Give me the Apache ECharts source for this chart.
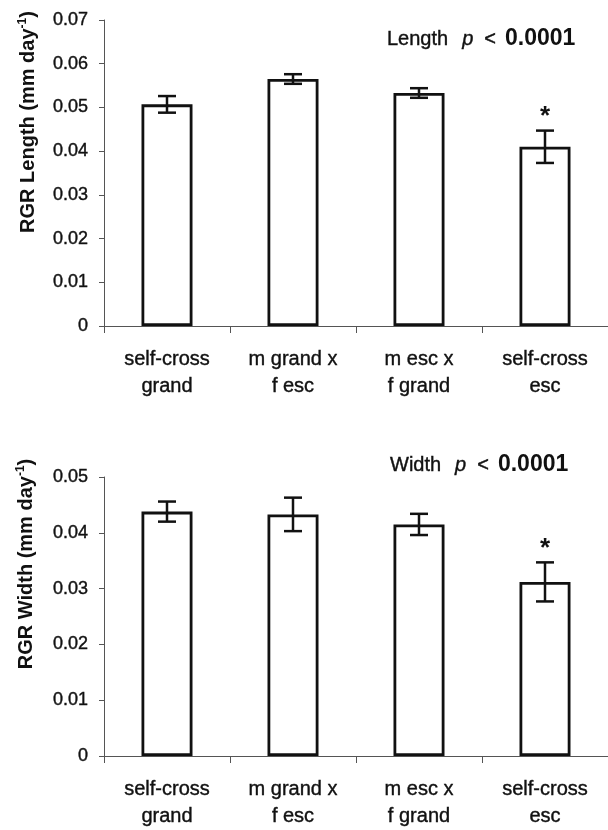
<!DOCTYPE html>
<html><head><meta charset="utf-8">
<script src="https://cdn.jsdelivr.net/npm/echarts@6/dist/echarts.min.js"></script>
<style>html,body{margin:0;padding:0;background:#fff}#c{width:608px;height:830px}</style>
</head><body><div id="c"></div>
<script>
const categories = ['self-cross\ngrand', 'm grand x\nf esc', 'm esc x\nf grand', 'self-cross\nesc'];
const lengthMean = [0.0507, 0.0565, 0.0533, 0.0410];
const lengthErr = [0.0019, 0.0011, 0.0011, 0.0037];
const widthMean = [0.0438, 0.0433, 0.0415, 0.0312];
const widthErr = [0.0018, 0.0030, 0.0019, 0.0035];
const significant = [false, false, false, true];
const lengthTicks = { min: 0, max: 0.07, interval: 0.01 };
const widthTicks = { min: 0, max: 0.05, interval: 0.01 };

const FONT = 'Liberation Sans, Arial, sans-serif';
const INK = '#111';
const chart = echarts.init(document.getElementById('c'), null, { renderer: 'canvas' });

function errSeries(mean, err, axisIdx) {
  return {
    type: 'custom', xAxisIndex: axisIdx, yAxisIndex: axisIdx, z: 5,
    data: mean.map((m, i) => [i, m - err[i], m + err[i], significant[i] ? 1 : 0]),
    renderItem: function (params, api) {
      const x = api.coord([api.value(0), 0])[0];
      const lo = api.coord([api.value(0), api.value(1)])[1];
      const hi = api.coord([api.value(0), api.value(2)])[1];
      const w = 9;
      const st = { stroke: INK, lineWidth: 2.5 };
      const children = [
        { type: 'line', shape: { x1: x, y1: lo, x2: x, y2: hi }, style: st },
        { type: 'line', shape: { x1: x - w, y1: lo, x2: x + w, y2: lo }, style: st },
        { type: 'line', shape: { x1: x - w, y1: hi, x2: x + w, y2: hi }, style: st }
      ];
      if (api.value(3) === 1) {
        children.push({ type: 'text', style: { text: '*', x: x, y: hi - 14, align: 'center', verticalAlign: 'middle', font: 'bold 26px ' + FONT, fill: INK } });
      }
      return { type: 'group', children: children };
    }
  };
}

function yAxis(gi, ticks) {
  return {
    type: 'value', gridIndex: gi, min: ticks.min, max: ticks.max, interval: ticks.interval,
    axisLine: { show: true, lineStyle: { color: '#555', width: 1 } },
    axisTick: { show: true, length: 5, lineStyle: { color: '#555' } },
    splitLine: { show: false },
    axisLabel: { color: INK, fontSize: 18, fontFamily: FONT, margin: 16,
      textBorderColor: INK, textBorderWidth: 0.4,
      formatter: v => v === 0 ? '0' : v.toFixed(2) }
  };
}

function xAxis(gi) {
  return {
    type: 'category', gridIndex: gi, data: categories,
    axisLine: { show: true, lineStyle: { color: '#555', width: 1 } },
    axisTick: { show: true, length: 7, lineStyle: { color: '#555' } },
    axisLabel: { color: INK, fontSize: 20, fontFamily: FONT, margin: 20, lineHeight: 27,
      textBorderColor: INK, textBorderWidth: 0.4 }
  };
}

const pRich = {
  n: { fontSize: 20, fontFamily: FONT, fill: INK, stroke: INK, lineWidth: 0.4 },
  i: { fontSize: 20, fontFamily: FONT, fontStyle: 'italic', fill: INK, stroke: INK, lineWidth: 0.4, padding: [0, 11, 0, 14] },
  l: { fontSize: 20, fontFamily: FONT, fill: INK, stroke: INK, lineWidth: 0.4, padding: [0, 9, 0, 0] },
  b: { fontSize: 23, fontFamily: FONT, fontWeight: 'bold', fill: INK }
};
const yRich = {
  a: { fontSize: 20, fontWeight: 'bold', fontFamily: FONT, fill: INK },
  s: { fontSize: 12, fontWeight: 'bold', fontFamily: FONT, fill: INK, padding: [0, 0, 10, 0] }
};

chart.setOption({
  animation: false,
  backgroundColor: '#fff',
  grid: [
    { left: 104, right: 0, top: 20, height: 306 },
    { left: 104, right: 0, top: 477, height: 280 }
  ],
  xAxis: [xAxis(0), xAxis(1)],
  yAxis: [yAxis(0, lengthTicks), yAxis(1, widthTicks)],
  series: [
    { type: 'bar', xAxisIndex: 0, yAxisIndex: 0, data: lengthMean, barWidth: 51,
      itemStyle: { color: '#fff', borderColor: INK, borderWidth: 2.8 } },
    { type: 'bar', xAxisIndex: 1, yAxisIndex: 1, data: widthMean, barWidth: 51,
      itemStyle: { color: '#fff', borderColor: INK, borderWidth: 2.8 } },
    errSeries(lengthMean, lengthErr, 0),
    errSeries(widthMean, widthErr, 1)
  ],
  graphic: [
    { type: 'text', x: 387, y: 39, style: {
      text: '{n|Length}{i|p}{l|<}{b|0.0001}', verticalAlign: 'middle', rich: pRich } },
    { type: 'text', x: 390, y: 465, style: {
      text: '{n|Width}{i|p}{l|<}{b|0.0001}', verticalAlign: 'middle', rich: pRich } },
    { type: 'text', x: 28, y: 122, rotation: Math.PI / 2, style: {
      text: '{a|RGR Length (mm day}{s|-1}{a|)}', align: 'center', verticalAlign: 'middle', rich: yRich } },
    { type: 'text', x: 26, y: 564, rotation: Math.PI / 2, style: {
      text: '{a|RGR Width (mm day}{s|-1}{a|)}', align: 'center', verticalAlign: 'middle', rich: yRich } }
  ]
});
</script></body></html>
